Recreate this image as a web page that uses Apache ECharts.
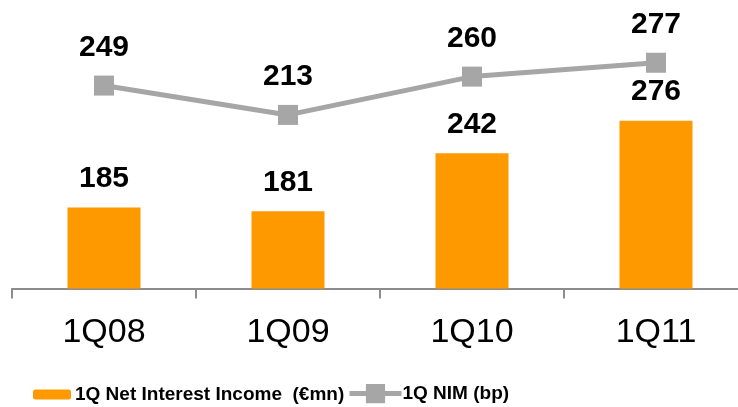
<!DOCTYPE html>
<html>
<head>
<meta charset="utf-8">
<script src="https://cdn.jsdelivr.net/npm/echarts@6/dist/echarts.min.js"></script>
<style>
  html, body { margin: 0; padding: 0; background: #ffffff; }
  #chart { width: 738px; height: 407px; }
</style>
</head>
<body>
<div id="chart"></div>
<script>
// Quarterly figures
const quarters = ['1Q08', '1Q09', '1Q10', '1Q11'];
const netInterestIncome = [185, 181, 242, 276];   // € mn
const netInterestMargin = [249, 213, 260, 277];   // bp
const seriesNames = ['1Q Net Interest Income  (\u20acmn)', '1Q NIM (bp)'];

const FONT = '"Liberation Sans", Arial, Helvetica, sans-serif';
const ORANGE = '#ff9900';
const GREY = '#a6a6a6';

const chart = echarts.init(document.getElementById('chart'), null, { renderer: 'canvas' });

chart.setOption({
  animation: false,
  backgroundColor: '#ffffff',
  textStyle: { fontFamily: FONT },
  // the last category band runs past the right edge of the canvas
  grid: { left: 12, width: 736, top: 8, bottom: 118.5, containLabel: false, outerBoundsMode: 'none' },
  legend: [
    {
      data: [seriesNames[0]],
      left: 33, top: 385, padding: 0,
      itemWidth: 38, itemHeight: 10,
      itemGap: 4,
      textStyle: { fontFamily: FONT, fontSize: 19, fontWeight: 'bold', color: '#000000', padding: [0, 0, 0, -1] }
    },
    {
      data: [seriesNames[1]],
      left: 347, top: 384, padding: 0,
      itemWidth: 52, itemHeight: 24,
      lineStyle: { width: 5 },
      textStyle: { fontFamily: FONT, fontSize: 19, fontWeight: 'bold', color: '#000000', padding: [0, 0, 0, -4] }
    }
  ],
  xAxis: {
    type: 'category',
    data: quarters,
    boundaryGap: true,
    axisLine: { lineStyle: { color: '#8c8c8c', width: 2 } },
    axisTick: { show: true, length: 10, lineStyle: { color: '#8c8c8c', width: 2 } },
    axisLabel: { color: '#000000', fontFamily: FONT, fontSize: 34, margin: 27 }
  },
  yAxis: [
    { type: 'value', min: 100, max: 394.5, show: false, splitLine: { show: false } },
    { type: 'value', min: 0, max: 344.2, show: false, splitLine: { show: false } }
  ],
  series: [
    {
      name: seriesNames[0],
      type: 'bar',
      yAxisIndex: 0,
      data: netInterestIncome,
      barWidth: 73,
      itemStyle: { color: ORANGE },
      label: {
        show: true, position: 'top', distance: 14,
        color: '#000000', fontFamily: FONT, fontSize: 30, fontWeight: 'bold'
      },
      z: 2
    },
    {
      name: seriesNames[1],
      type: 'line',
      yAxisIndex: 1,
      data: netInterestMargin,
      symbol: 'rect',
      symbolSize: 20,
      lineStyle: { color: GREY, width: 5 },
      itemStyle: { color: GREY },
      label: {
        show: true, position: 'top', distance: 13,
        color: '#000000', fontFamily: FONT, fontSize: 30, fontWeight: 'bold'
      },
      z: 3
    }
  ]
});
</script>
</body>
</html>
